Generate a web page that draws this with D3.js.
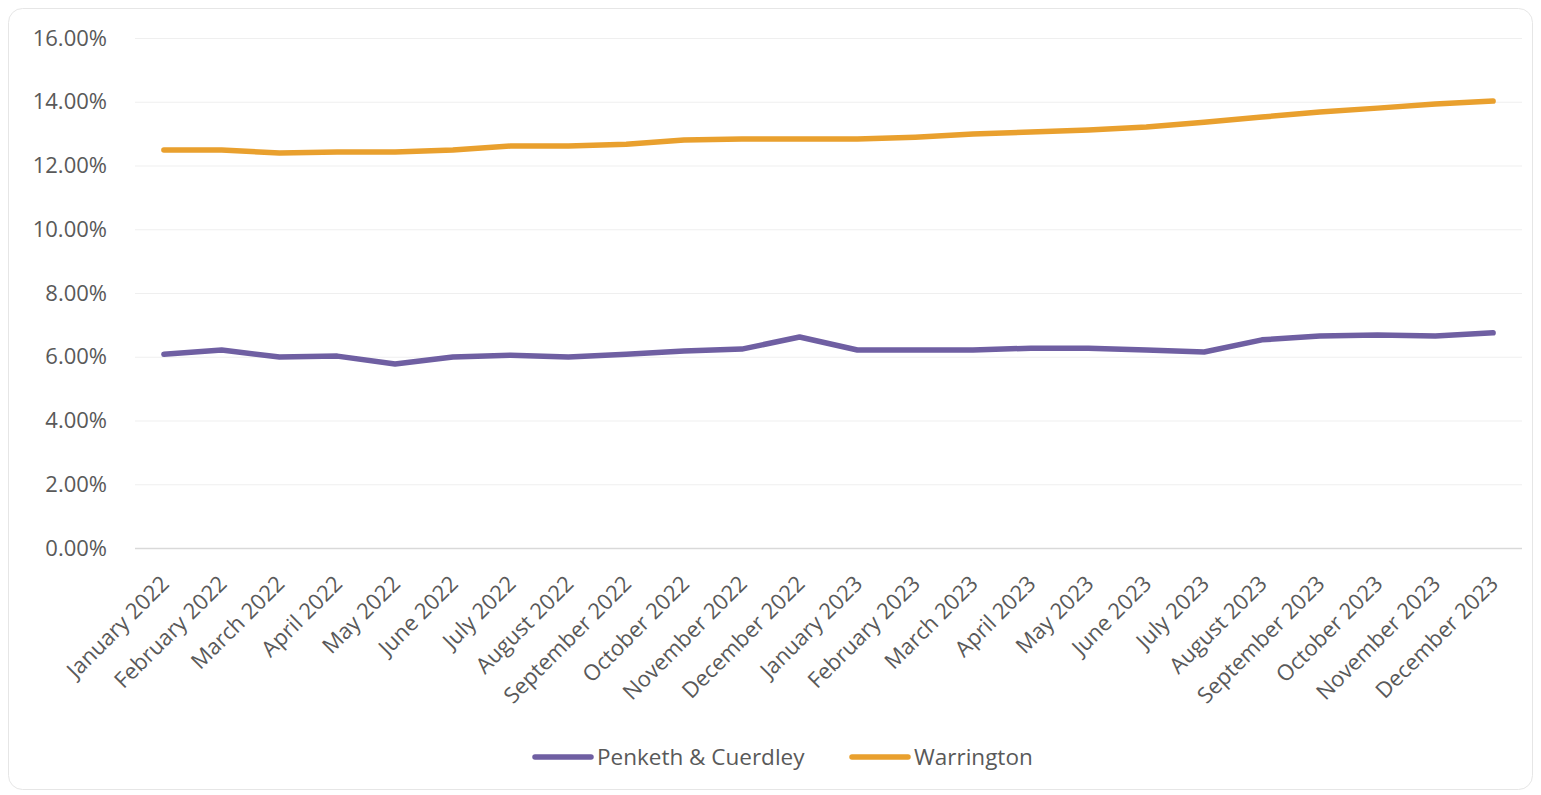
<!DOCTYPE html>
<html>
<head>
<meta charset="utf-8">
<script src="https://cdn.jsdelivr.net/npm/d3@7"></script>
<style>
    body { margin: 0; background: #fff; }
    text { font-family: "Open Sans", sans-serif; fill: #595959; }
</style>
</head>
<body>
<svg id="chart" width="1541" height="795"></svg>
<script>
// Data
const months = [
    'January 2022', 'February 2022', 'March 2022', 'April 2022', 'May 2022', 'June 2022',
    'July 2022', 'August 2022', 'September 2022', 'October 2022', 'November 2022', 'December 2022',
    'January 2023', 'February 2023', 'March 2023', 'April 2023', 'May 2023', 'June 2023',
    'July 2023', 'August 2023', 'September 2023', 'October 2023', 'November 2023', 'December 2023'
];
const penketh = [6.08, 6.21, 5.99, 6.02, 5.77, 5.99, 6.05, 5.99, 6.08, 6.18, 6.24, 6.62,
    6.21, 6.21, 6.21, 6.27, 6.27, 6.21, 6.15, 6.53, 6.65, 6.68, 6.65, 6.75];
const warrington = [12.49, 12.49, 12.39, 12.42, 12.42, 12.49, 12.61, 12.61, 12.67, 12.80, 12.83, 12.83,
    12.83, 12.89, 12.99, 13.05, 13.11, 13.21, 13.36, 13.52, 13.68, 13.80, 13.93, 14.02];
const yTicks = [0, 2, 4, 6, 8, 10, 12, 14, 16];
const seriesNames = ['Penketh & Cuerdley', 'Warrington'];
const seriesColors = ['#6F5FA2', '#E9A02E'];

/**
 * Visual configs.
 */
const margin = { top: 38, right: 19, bottom: 247, left: 135 };
const visWidth = 1541, visHeight = 795,
    width = visWidth - margin.left - margin.right,
    height = visHeight - margin.top - margin.bottom;

const svg = d3.select('#chart');

// Card
svg.append('rect')
    .attr('x', 8.5).attr('y', 8.5)
    .attr('width', visWidth - 17).attr('height', visHeight - 14)
    .attr('rx', 14)
    .attr('fill', '#fff')
    .attr('stroke', '#E6E6E6');

const g = svg.append('g').attr('transform', 'translate(' + margin.left + ',' + margin.top + ')');

/**
 * D3.
 */
const xScale = d3.scalePoint().domain(months).range([0, width]).padding(0.5),
    yScale = d3.scaleLinear().domain([0, 16]).range([height, 0]),
    line = d3.line()
        .x((d, i) => xScale(months[i]))
        .y(d => yScale(d));

// Gridlines + y labels
const yAxis = d3.axisLeft(yScale).tickValues(yTicks)
    .tickSize(-width).tickPadding(28)
    .tickFormat(d => d.toFixed(2) + '%');
g.append('g').attr('class', 'y-axis').call(yAxis)
    .call(s => s.select('.domain').remove())
    .call(s => s.selectAll('.tick line')
        .attr('stroke', d => d === 0 ? '#D9D9D9' : '#EFEFEF')
        .attr('stroke-width', d => d === 0 ? 1.5 : 1))
    .call(s => s.selectAll('.tick text')
        .attr('font-size', 22)
        .attr('fill', '#595959')
        .attr('font-family', '"Open Sans", sans-serif'));

// X axis labels
const xAxis = d3.axisBottom(xScale).tickSize(0).tickPadding(0);
g.append('g').attr('class', 'x-axis')
    .attr('transform', 'translate(0,' + height + ')')
    .call(xAxis)
    .call(s => s.select('.domain').remove())
    .call(s => s.selectAll('.tick text')
        .attr('font-size', 22)
        .attr('fill', '#595959')
        .attr('font-family', '"Open Sans", sans-serif')
        .attr('text-anchor', 'end')
        .attr('dy', 0)
        .attr('transform', 'translate(6,37) rotate(-45)'));

// Lines
const series = [penketh, warrington];
g.selectAll('path.series')
    .data(series)
    .join('path')
    .attr('class', 'series')
    .attr('fill', 'none')
    .attr('stroke', (d, i) => seriesColors[i])
    .attr('stroke-width', 5.5)
    .attr('stroke-linejoin', 'round')
    .attr('stroke-linecap', 'round')
    .attr('d', line);

// Legend
const legendX = [533, 850];
const legend = svg.append('g').attr('class', 'legend');
const items = legend.selectAll('g')
    .data(seriesNames)
    .join('g')
    .attr('transform', (d, i) => 'translate(' + legendX[i] + ',757)');
items.append('line')
    .attr('x1', 2).attr('x2', 58)
    .attr('stroke', (d, i) => seriesColors[i])
    .attr('stroke-width', 5.5)
    .attr('stroke-linecap', 'round');
items.append('text')
    .attr('x', 64).attr('dy', '0.35em')
    .attr('font-size', 22.5)
    .text(d => d);
</script>
</body>
</html>
